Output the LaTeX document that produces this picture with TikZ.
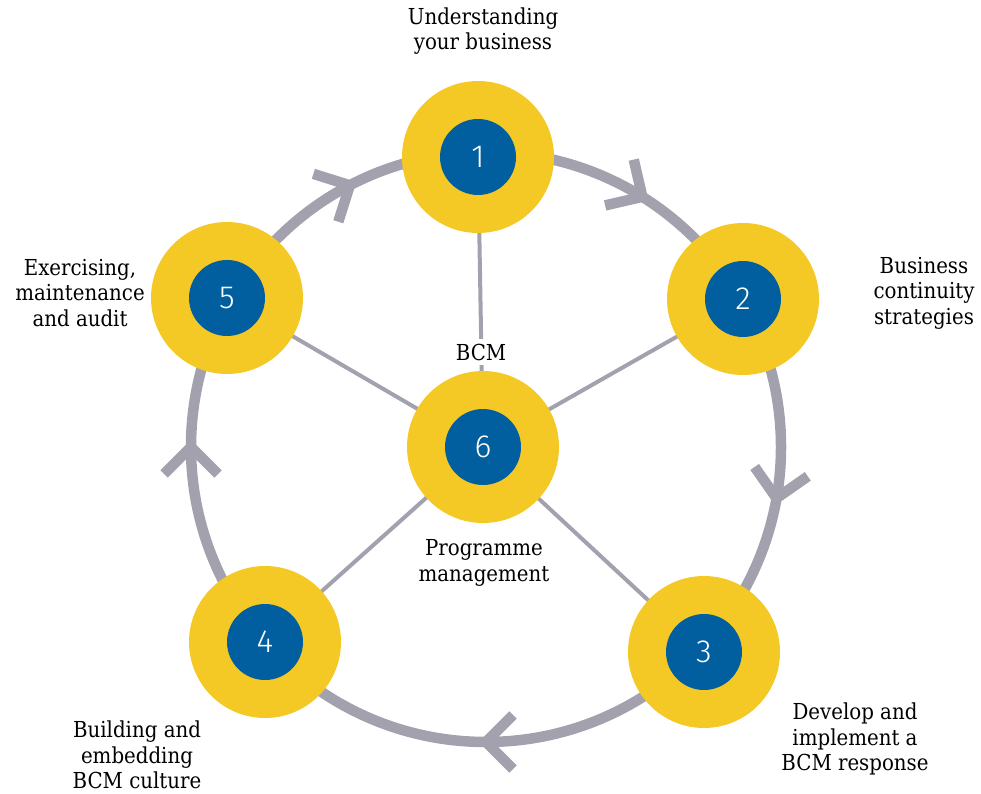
\documentclass[tikz,border=0pt]{standalone}
\usepackage{fontspec}
\setmainfont{DejaVu Serif Condensed}
\newfontfamily\numfont{Fira Sans Light}
\usetikzlibrary{backgrounds}
\definecolor{bcmyellow}{HTML}{F4C926}
\definecolor{bcmblue}{HTML}{025F9F}
\definecolor{bcmgrey}{HTML}{A4A1AF}
\tikzset{
    stage-outer/.style = {circle, fill=bcmyellow, minimum size=152pt, inner sep=0pt},
    stage-inner/.style = {circle, fill=bcmblue, text=white, minimum size=76pt, inner sep=0pt, font=\numfont\fontsize{32}{32}\selectfont},
    stage-text/.style = {align=center, text=black, font=\fontsize{22}{25.5}\selectfont},
    cycle-ring/.style = {draw=bcmgrey, line width=10.5pt},
    spoke/.style = {draw=bcmgrey, line width=4pt},
}

\begin{document}
\begin{tikzpicture}[x=1pt, y=1pt]
\useasboundingbox (0,0) rectangle (981,793);
\coordinate (hub) at (486,346);

% the six stages
\node[stage-outer] (s1) at (478,636) {};
\node[stage-outer] (s2) at (743,494) {};
\node[stage-outer] (s3) at (704,141) {};
\node[stage-outer] (s4) at (265,151) {};
\node[stage-outer] (s5) at (227,495) {};
\node[stage-outer] (s6) at (483,346) {};
\foreach \s in {1,...,6}
    \node[stage-inner] (n\s) at (s\s) {\s};

% ring, arrows and spokes behind the stages
\begin{scope}[on background layer]
\draw[cycle-ring] (hub) circle (295);
\foreach \a in {58,-10,-90,180,117.5}
    \draw[cycle-ring, shift={(hub)}, shift={(\a:295)}, rotate=\a] (-27,27) -- (0,0) -- (27,27);
\foreach \s in {1,...,5}
    \draw[spoke] (s6.center) -- (s\s.center);
\end{scope}

% labels
\node[stage-text] (t1) at (483,762) {Understanding\\your business};
\node[stage-text] (t2) at (924,500) {Business\\continuity\\strategies};
\node[stage-text] (t3) at (855,54) {Develop and\\implement a\\BCM response};
\node[stage-text] (t4) at (137,38) {Building and\\embedding\\BCM culture};
\node[stage-text] (t5) at (80,500) {Exercising,\\maintenance\\and audit};
\node[stage-text, fill=white, inner ysep=5pt] (t6) at (481,441) {BCM};
\node[stage-text] (t7) at (484,230) {Programme\\management};
\end{tikzpicture}
\end{document}
